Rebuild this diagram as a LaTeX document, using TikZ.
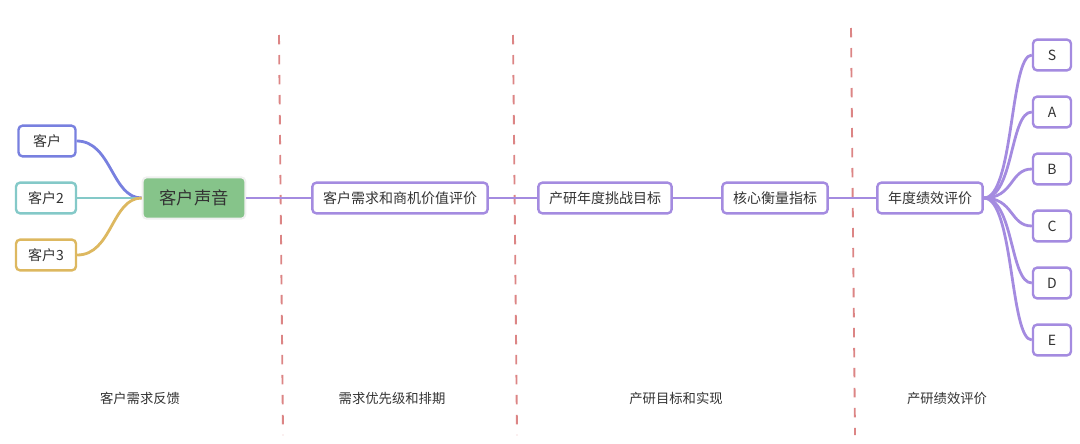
\documentclass[tikz,border=0pt]{standalone}
\usepackage{fontspec}
\setmainfont{Noto Sans CJK SC}
\definecolor{vocPurple}{HTML}{A48BE0}
\definecolor{vocBlue}{HTML}{7880DF}
\definecolor{vocTeal}{HTML}{84C9C8}
\definecolor{vocGold}{HTML}{DDB860}
\definecolor{vocGreen}{HTML}{86C48A}
\definecolor{vocRed}{HTML}{DC8585}
\definecolor{vocText}{HTML}{333333}
\tikzset{
  voc box/.style={draw=vocPurple, fill=white, rounded corners=3pt, line width=1.8pt, minimum height=23pt, inner xsep=8pt, inner ysep=0pt, font=\fontsize{10.5}{12}\selectfont, text=vocText},
  voc link/.style={draw=vocPurple, line width=2.1pt},
  voc sep/.style={draw=vocRed, line width=1.4pt, dash pattern=on 7pt off 8pt},
  voc caption/.style={font=\fontsize{10}{12}\selectfont, text=vocText},
}
\begin{document}
\begin{tikzpicture}[x=0.75pt,y=-0.75pt]
  \useasboundingbox (0,0) rectangle (1080,443);

  % stage separators
  \draw[voc sep] (279,35) -- (283,435);
  \draw[voc sep] (513,35) -- (517,435);
  \draw[voc sep] (851,28) -- (855,435);

  % customer voice
  \node[voc box, fill=vocGreen, draw=black!6, line width=1.5pt, minimum width=77pt, minimum height=31pt, font=\fontsize{13}{15}\selectfont] (voice) at (194,198) {客户声音};
  \node[voc box, draw=vocBlue, minimum width=42.75pt] (cust1) at (47,141) {客户};
  \node[voc box, draw=vocTeal, minimum width=45pt] (cust2) at (46,198) {客户2};
  \node[voc box, draw=vocGold, minimum width=45pt] (cust3) at (46,255) {客户3};
  \draw[voc link, draw=vocBlue] (voice.west) .. controls +(-30,0) and +(35,0) .. (cust1.east);
  \draw[voc link, draw=vocTeal] (voice.west) -- (cust2.east);
  \draw[voc link, draw=vocGold] (voice.west) .. controls +(-30,0) and +(35,0) .. (cust3.east);

  % main chain
  \node[voc box] (value) at (400,198) {客户需求和商机价值评价};
  \node[voc box] (goal) at (605,198) {产研年度挑战目标};
  \node[voc box] (metric) at (775,198) {核心衡量指标};
  \node[voc box] (annual) at (930,198) {年度绩效评价};
  \draw[voc link] (voice) -- (value);
  \draw[voc link] (value) -- (goal);
  \draw[voc link] (goal) -- (metric);
  \draw[voc link] (metric) -- (annual);

  % grades
  \foreach \g [count=\i] in {S,A,B,C,D,E} {
    \node[voc box, minimum width=28.5pt, inner xsep=0pt] (grade-\g) at (1052,{55+57*(\i-1)}) {\g};
    \draw[voc link] (annual.east) .. controls +(30,0) and +(-22,0) .. (grade-\g.west);
  }

  % stage captions
  \node[voc caption] (cap1) at (140,398) {客户需求反馈};
  \node[voc caption] (cap2) at (392,398) {需求优先级和排期};
  \node[voc caption] (cap3) at (676,398) {产研目标和实现};
  \node[voc caption] (cap4) at (947,398) {产研绩效评价};
\end{tikzpicture}
\end{document}
